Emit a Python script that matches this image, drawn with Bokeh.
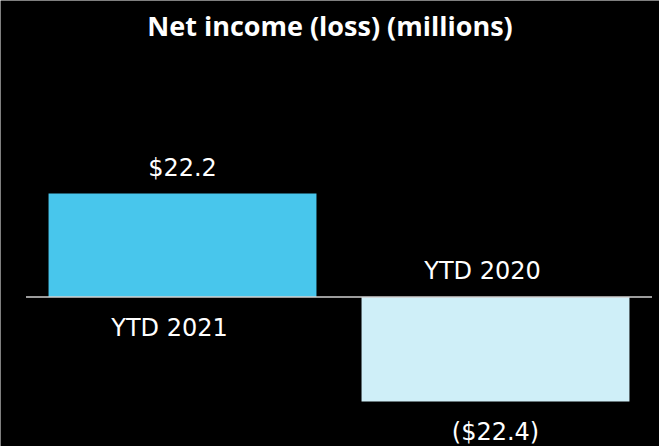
from bokeh.plotting import figure
from bokeh.models import ColumnDataSource, Range1d, Label
from bokeh.core.properties import value
from bokeh.embed import file_html
from bokeh.resources import INLINE

title_text = "Net income (loss) (millions)"
categories = ["YTD 2021", "YTD 2020"]
values = [22.2, -22.4]
value_labels = ["$22.2", "($22.4)"]
bar_colors = ["#48C6EC", "#CFEFF8"]

xs = list(range(len(categories)))
src = ColumnDataSource(dict(
    x=xs, top=values, color=bar_colors, vlabel=value_labels, cat=categories,
    vy_off=[-26 if v >= 0 else 31 for v in values],
    cy_off=[31 if v >= 0 else -26 for v in values],
))

W, H = 659, 446
p = figure(width=W, height=H, output_backend="svg", toolbar_location=None,
           x_range=Range1d(-0.5815, 1.524), y_range=Range1d(-32.08, 63.63),
           background_fill_color="black", border_fill_color="black",
           outline_line_color=None, min_border=0)

p.axis.visible = False
p.grid.visible = False

p.add_layout(Label(x=W / 2, y=H - 25, x_units="screen", y_units="screen", text=title_text,
                   text_align="center", text_baseline="middle", text_color="white",
                   text_font="Open Sans", text_font_style="bold", text_font_size="27px"))

p.vbar(x="x", top="top", bottom=0, width=0.856, fill_color="color", line_color=None, source=src)
p.segment(x0=[-0.5], y0=[0], x1=[1.5], y1=[0], line_color="#D0D0D0", line_width=1.5)

p.text(x="x", y="top", text="vlabel", source=src, text_align="center", text_baseline="middle",
       y_offset="vy_off", text_color="white", text_font=value("DejaVu Sans"), text_font_size="24px")
p.text(x="x", y=0, text="cat", source=src, text_align="center", text_baseline="middle",
       y_offset="cy_off", x_offset=-13, text_color="white", text_font=value("DejaVu Sans"),
       text_font_size="24px")

open("out.html", "w").write(file_html(p, INLINE))
